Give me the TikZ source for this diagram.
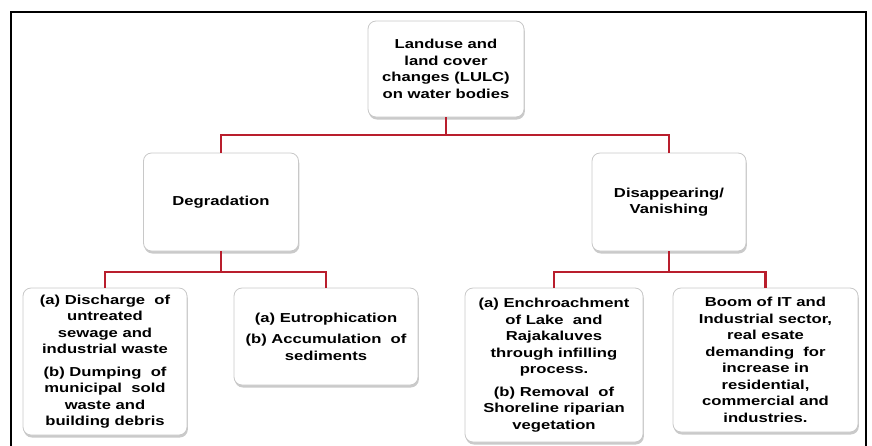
\documentclass[tikz,border=0pt]{standalone}
\usepackage{fontspec}
\newfontfamily\boxfont{Liberation Sans}[FakeStretch=1.28]
\usetikzlibrary{shadows}
\definecolor{linkred}{RGB}{185,30,45}
\definecolor{boxline}{RGB}{200,200,200}
\tikzset{
  box/.style={draw=boxline, line width=0.8pt, fill=white, rounded corners=8pt,
    align=center, inner sep=0pt,
    font=\boxfont\bfseries\fontsize{13}{16.5}\selectfont,
    drop shadow={shadow xshift=0.8pt, shadow yshift=-2.5pt, opacity=0.35, fill=black!60}},
  link/.style={draw=linkred, line width=2.2pt},
  frameline/.style={draw=black, line width=2.6pt}
}
\begin{document}
\begin{tikzpicture}[x=1pt,y=-1pt]
\useasboundingbox (0,0) rectangle (872,445);
\draw[frameline] (11,450) -- (11,12) -- (866,12) -- (866,450);

\node[box, minimum width=156pt, minimum height=96pt] (root) at (446,69)
  {Landuse and\\land cover\\changes (LULC)\\on water bodies};
\node[box, minimum width=155pt, minimum height=98pt] (deg) at (221,202) {Degradation};
\node[box, minimum width=154pt, minimum height=98pt] (dis) at (669,202) {Disappearing/\\Vanishing};

\node[box, minimum width=164pt, minimum height=147pt] (b1) at (105,361.5)
  {(a) Discharge\ \ of\\untreated\\sewage and\\industrial waste\\[6pt]
   (b) Dumping\ \ of\\municipal\ \ sold\\waste and\\building debris};
\node[box, minimum width=184pt, minimum height=97pt] (b2) at (326,336.5)
  {(a) Eutrophication\\[5pt](b) Accumulation\ \ of\\sediments};
\node[box, minimum width=178pt, minimum height=154pt] (b3) at (554,365)
  {(a) Enchroachment\\of Lake\ \ and\\Rajakaluves\\through infilling\\process.\\[6pt]
   (b) Removal\ \ of\\Shoreline riparian\\vegetation};
\node[box, minimum width=185pt, minimum height=144pt] (b4) at (765.5,360)
  {Boom of IT and\\Industrial sector,\\real esate\\demanding\ \ for\\increase in\\residential,\\commercial and\\industries.};

\coordinate (j1) at (446,135);
\coordinate (j2) at (221,272);
\coordinate (j3) at (669,272);
\draw[link] (root.south) -- (j1);
\draw[link] (deg.north) |- (j1) -| (dis.north);
\draw[link] (deg.south) -- (j2);
\draw[link] (b1.north) |- (j2) -| (b2.north);
\draw[link] (dis.south) -- (j3);
\draw[link] (b3.north) |- (j3) -| (b4.north);
\end{tikzpicture}
\end{document}
